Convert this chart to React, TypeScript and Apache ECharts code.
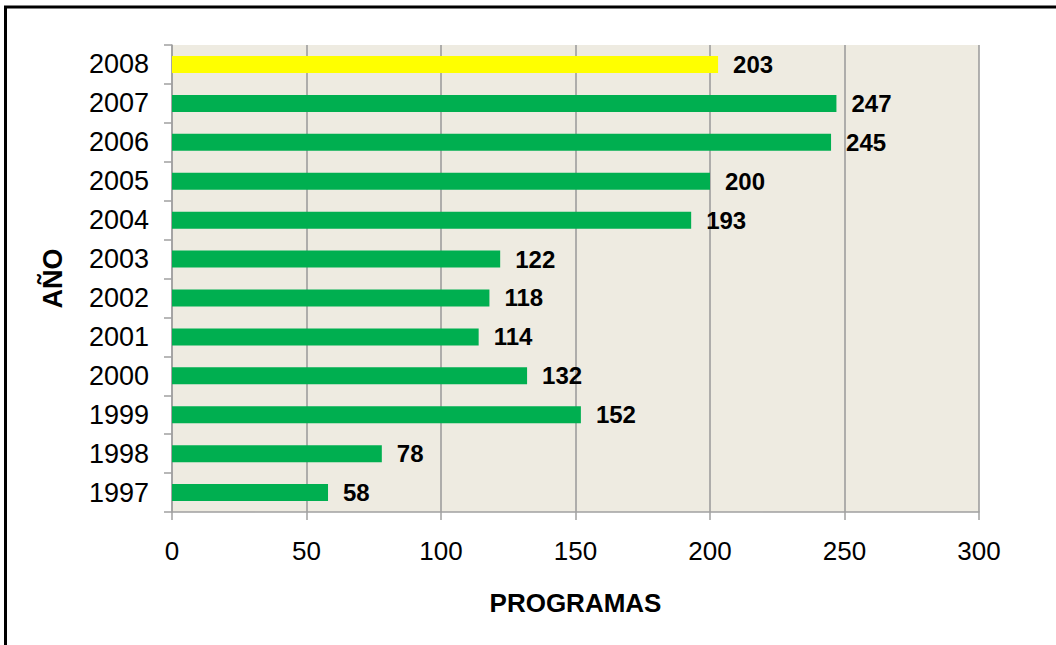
import React, { useEffect, useRef } from "react";
import * as echarts from "echarts";

const years = ["1997", "1998", "1999", "2000", "2001", "2002", "2003", "2004", "2005", "2006", "2007", "2008"];
const programas = [58, 78, 152, 132, 114, 118, 122, 193, 200, 245, 247, 203];
const highlightYear = "2008";
const xTicks = [0, 50, 100, 150, 200, 250, 300];

const FONT = "'Liberation Sans', Arial, sans-serif";

export default function App() {
  const ref = useRef<HTMLDivElement>(null);
  useEffect(() => {
    if (!ref.current) return;
    const chart = echarts.init(ref.current, null, { renderer: "svg" });
    chart.setOption({
      animation: false,
      backgroundColor: "#ffffff",
      graphic: [
        {
          type: "rect",
          shape: { x: 5.5, y: 7, width: 1070, height: 660 },
          style: { fill: "none", stroke: "#000000", lineWidth: 3 },
          silent: true,
        },
      ],
      grid: {
        left: 172,
        right: 77,
        top: 45,
        bottom: 133,
        show: true,
        backgroundColor: "#EEEBE1",
        borderWidth: 0,
      },
      xAxis: {
        type: "value",
        min: xTicks[0],
        max: xTicks[xTicks.length - 1],
        interval: 50,
        name: "PROGRAMAS",
        nameLocation: "middle",
        nameGap: 78,
        nameTextStyle: { fontFamily: FONT, fontSize: 26, fontWeight: "bold", color: "#000" },
        axisLine: { show: true, lineStyle: { color: "#a0a0a0", width: 1.5 } },
        axisTick: { show: true, length: 8, lineStyle: { color: "#a0a0a0", width: 1.5 } },
        axisLabel: { fontFamily: FONT, fontSize: 26, color: "#000", margin: 26 },
        splitLine: { show: true, lineStyle: { color: "#999999", width: 1.5 } },
      },
      yAxis: {
        type: "category",
        data: years,
        name: "AÑO",
        nameLocation: "middle",
        nameGap: 106,
        nameTextStyle: { fontFamily: FONT, fontSize: 27, fontWeight: "bold", color: "#000" },
        axisLine: { show: true, lineStyle: { color: "#a0a0a0", width: 1.5 } },
        axisTick: { show: true, length: 8, alignWithLabel: false, lineStyle: { color: "#a0a0a0", width: 1.5 } },
        axisLabel: { fontFamily: FONT, fontSize: 27, color: "#000", margin: 23 },
        splitLine: { show: false },
      },
      series: [
        {
          type: "bar",
          data: programas.map((v, i) => ({
            value: v,
            itemStyle: { color: years[i] === highlightYear ? "#FFFF00" : "#00AF50" },
          })),
          barWidth: 17,
          label: {
            show: true,
            position: "right",
            distance: 15,
            fontFamily: FONT,
            fontSize: 24,
            fontWeight: "bold",
            color: "#000",
          },
        },
      ],
    });
    return () => chart.dispose();
  }, []);
  return (
    <div
      ref={ref}
      style={{ position: "fixed", left: 0, top: 0, width: 1056, height: 645 }}
    />
  );
}
